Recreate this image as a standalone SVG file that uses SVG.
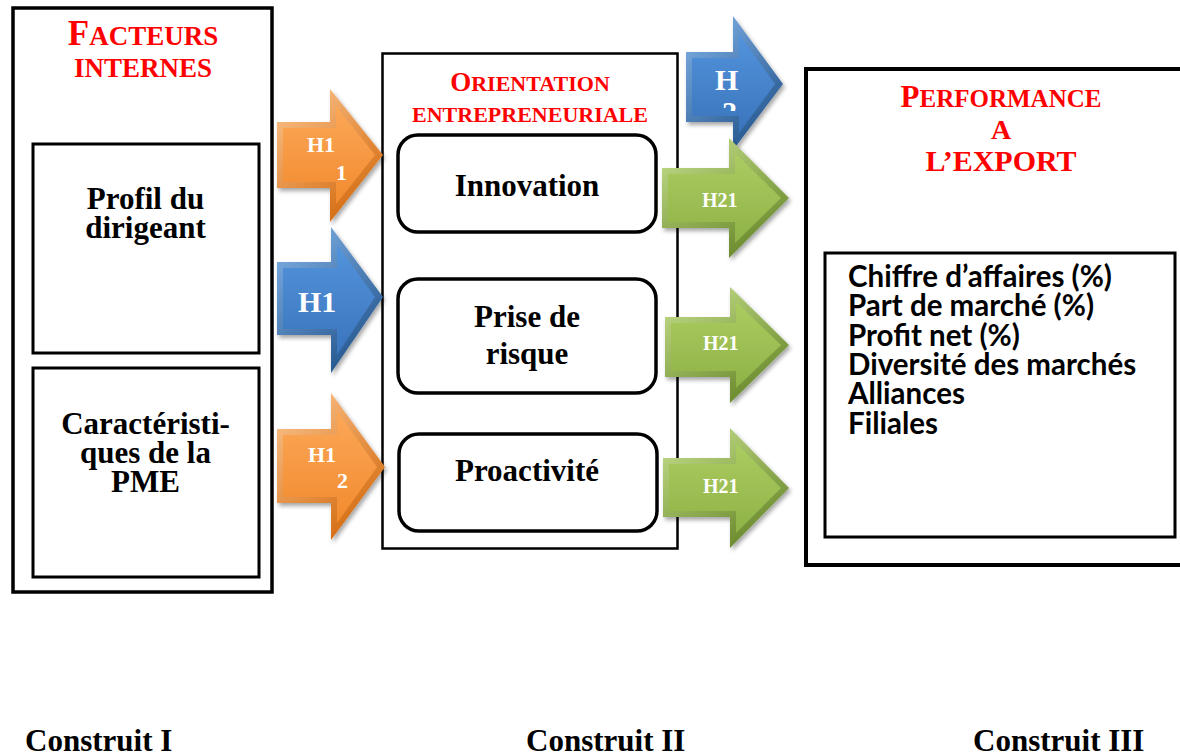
<svg xmlns="http://www.w3.org/2000/svg" width="1180" height="756" viewBox="0 0 1180 756">
<style>
.box{fill:#fff;stroke:#000}
.serif{font-family:"Liberation Serif","Times New Roman",serif;font-weight:bold}
.red{fill:#ff0000}
.blk{fill:#000}
.lbl{font-size:31px;text-anchor:middle}
.wt{fill:#fff}
.list{font-family:Lato,"Open Sans",sans-serif;font-weight:bold;font-size:29.5px;fill:#000}
</style>
<defs>
<filter id="sh" x="-20%" y="-20%" width="150%" height="150%">
<feDropShadow dx="2" dy="3" stdDeviation="2" flood-color="#000" flood-opacity="0.35"/>
</filter>
<linearGradient id="oOut" x1="0" y1="0" x2="0.6" y2="1">
<stop offset="0" stop-color="#fdc892"/><stop offset="1" stop-color="#d46c12"/>
</linearGradient>
<linearGradient id="oIn" x1="0" y1="0" x2="0" y2="1">
<stop offset="0" stop-color="#fba858"/><stop offset="1" stop-color="#f28a2e"/>
</linearGradient>
<linearGradient id="bOut" x1="0" y1="0" x2="0.6" y2="1">
<stop offset="0" stop-color="#86b6ea"/><stop offset="1" stop-color="#25578f"/>
</linearGradient>
<linearGradient id="bIn" x1="0" y1="0" x2="0" y2="1">
<stop offset="0" stop-color="#5394dc"/><stop offset="1" stop-color="#3a74bc"/>
</linearGradient>
<linearGradient id="gOut" x1="0" y1="0" x2="0.6" y2="1">
<stop offset="0" stop-color="#c9e28f"/><stop offset="1" stop-color="#6a8a2c"/>
</linearGradient>
<linearGradient id="gIn" x1="0" y1="0" x2="0" y2="1">
<stop offset="0" stop-color="#abcc60"/><stop offset="1" stop-color="#8fb247"/>
</linearGradient>
<clipPath id="clipH2"><rect x="686" y="16" width="100" height="95"/></clipPath>
</defs>

<g id="node-facteurs">
<rect class="box" x="13" y="8" width="259" height="584" stroke-width="3.5"/>
<text class="serif red" x="143" y="45" text-anchor="middle"><tspan font-size="35">F</tspan><tspan font-size="27">ACTEURS</tspan></text>
<text class="serif red" x="143" y="77" text-anchor="middle" font-size="27">INTERNES</text>
</g>
<g id="node-profil">
<rect class="box" x="33" y="144" width="226" height="209" stroke-width="3"/>
<text class="serif blk lbl" x="145.5" y="209">Profil du</text>
<text class="serif blk lbl" x="145.5" y="238">dirigeant</text>
</g>
<g id="node-caract">
<rect class="box" x="33" y="368" width="226" height="209" stroke-width="3"/>
<text class="serif blk lbl" x="145.5" y="434">Caractéristi-</text>
<text class="serif blk lbl" x="145.5" y="463">ques de la</text>
<text class="serif blk lbl" x="145.5" y="492">PME</text>
</g>

<g id="node-orientation">
<rect class="box" x="382.5" y="53.5" width="295" height="495" stroke-width="2.5"/>
<text class="serif red" x="530" y="91" text-anchor="middle"><tspan font-size="27">O</tspan><tspan font-size="22">RIENTATION</tspan></text>
<text class="serif red" x="530" y="122" text-anchor="middle" font-size="22">ENTREPRENEURIALE</text>
</g>
<g id="node-innovation">
<rect class="box" x="398" y="135" width="258" height="97" rx="20" stroke-width="3.5"/>
<text class="serif blk lbl" x="527" y="196">Innovation</text>
</g>
<g id="node-risque">
<rect class="box" x="398" y="279" width="258" height="114" rx="20" stroke-width="3.5"/>
<text class="serif blk lbl" x="527" y="327">Prise de</text>
<text class="serif blk lbl" x="527" y="364">risque</text>
</g>
<g id="node-proactivite">
<rect class="box" x="399" y="434" width="258" height="97" rx="20" stroke-width="3.5"/>
<text class="serif blk lbl" x="527" y="481">Proactivité</text>
</g>

<g id="node-performance">
<rect class="box" x="806" y="69" width="420" height="496" stroke-width="4"/>
<text class="serif red" x="1001" y="107" text-anchor="middle"><tspan font-size="31">P</tspan><tspan font-size="25">ERFORMANCE</tspan></text>
<text class="serif red" x="1001" y="139" text-anchor="middle" font-size="28">A</text>
<text class="serif red" x="1001" y="171" text-anchor="middle" font-size="30">L’EXPORT</text>
</g>
<g id="node-indicateurs">
<rect class="box" x="825" y="253" width="350" height="284" stroke-width="3"/>
<text class="list" x="848" y="287">Chiffre d’affaires (%)</text>
<text class="list" x="848" y="316">Part de marché (%)</text>
<text class="list" x="848" y="346">Profit net (%)</text>
<text class="list" x="848" y="375">Diversité des marchés</text>
<text class="list" x="848" y="404">Alliances</text>
<text class="list" x="848" y="434">Filiales</text>
</g>

<g id="connectors">
<g id="arrow-h11" filter="url(#sh)">
<polygon fill="url(#oOut)" points="277,122 330,122 330,89 383,155 330,222 330,188 277,188"/>
<polygon fill="url(#oIn)" points="283,128 336,128 336,106 375,155 336,204 336,182 283,182"/>
</g>
<text class="serif wt" font-size="22" x="307" y="152">H1</text>
<text class="serif wt" font-size="22" x="336" y="180">1</text>

<g id="arrow-h1" filter="url(#sh)">
<polygon fill="url(#bOut)" points="277,262 331,262 331,227 383,297 331,373 331,335 277,335"/>
<polygon fill="url(#bIn)" points="283,268 337,268 337,245 375,297 337,355 337,329 283,329"/>
</g>
<text class="serif wt" font-size="30" x="298" y="312">H1</text>

<g id="arrow-h12" filter="url(#sh)">
<polygon fill="url(#oOut)" points="277,429 331,429 331,393 385,467 331,540 331,503 277,503"/>
<polygon fill="url(#oIn)" points="283,435 337,435 337,411 377,467 337,523 337,497 283,497"/>
</g>
<text class="serif wt" font-size="22" x="308" y="462">H1</text>
<text class="serif wt" font-size="22" x="337" y="488">2</text>

<g id="arrow-h2" filter="url(#sh)">
<polygon fill="url(#bOut)" points="686,52 733,52 733,16 783,84 733,150 733,122 686,122"/>
<polygon fill="url(#bIn)" points="692,58 739,58 739,34 775,84 739,133 739,116 692,116"/>
</g>
<text class="serif wt" font-size="30" x="715" y="90">H</text>
<text class="serif wt" font-size="30" x="722" y="122" clip-path="url(#clipH2)">2</text>

<g id="arrow-h21a" filter="url(#sh)">
<polygon fill="url(#gOut)" points="662,168 729,168 729,138 789,198 729,258 729,228 662,228"/>
<polygon fill="url(#gIn)" points="668,174 735,174 735,153 781,198 735,243 735,222 668,222"/>
</g>
<text class="serif wt" font-size="20" x="702" y="207">H21</text>

<g id="arrow-h21b" filter="url(#sh)">
<polygon fill="url(#gOut)" points="665,317 730,317 730,287 789,345 730,403 730,377 665,377"/>
<polygon fill="url(#gIn)" points="671,323 736,323 736,302 781,345 736,388 736,371 671,371"/>
</g>
<text class="serif wt" font-size="20" x="703" y="350">H21</text>

<g id="arrow-h21c" filter="url(#sh)">
<polygon fill="url(#gOut)" points="663,458 730,458 730,428 789,488 730,548 730,517 663,517"/>
<polygon fill="url(#gIn)" points="669,464 736,464 736,443 781,488 736,533 736,511 669,511"/>
</g>
<text class="serif wt" font-size="20" x="703" y="493">H21</text>
</g>

<g id="construits">
<text class="serif blk" font-size="31" x="25" y="751">Construit I</text>
<text class="serif blk" font-size="31" x="526" y="751">Construit II</text>
<text class="serif blk" font-size="31" x="973" y="751">Construit III</text>
</g>
</svg>
